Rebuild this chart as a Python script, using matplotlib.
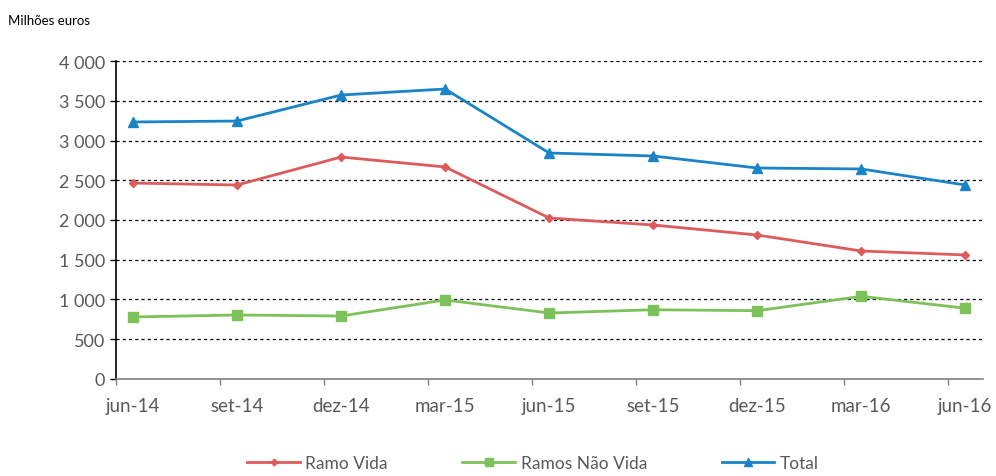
import matplotlib
matplotlib.use("Agg")
import matplotlib.pyplot as plt

plt.rcParams['font.family'] = ['Lato', 'DejaVu Sans']

categories = ["jun-14", "set-14", "dez-14", "mar-15", "jun-15", "set-15", "dez-15", "mar-16", "jun-16"]
ramo_vida = [2465, 2440, 2792, 2667, 2025, 1937, 1811, 1610, 1560]
ramos_nao_vida = [780, 805, 792, 994, 830, 871, 859, 1040, 890]
total = [3233, 3245, 3572, 3648, 2843, 2805, 2654, 2642, 2440]
y_ticks = [0, 500, 1000, 1500, 2000, 2500, 3000, 3500, 4000]
y_labels = ["0", "500", "1 000", "1 500", "2 000", "2 500", "3 000", "3 500", "4 000"]

red = "#DE5B5B"
green = "#7DC15A"
blue = "#1A84C7"
txt = "#595959"

fig = plt.figure(figsize=(9.96, 4.77), dpi=100)
ax = fig.add_axes([0.1165, 0.2034, 0.987 - 0.1165, 0.870 - 0.2034])

x = list(range(len(categories)))
ax.plot(x, ramo_vida, color=red, lw=2.0, marker='D', ms=4.5, label="Ramo Vida", zorder=3)
ax.plot(x, ramos_nao_vida, color=green, lw=2.0, marker='s', ms=7, label="Ramos Não Vida", zorder=3)
ax.plot(x, total, color=blue, lw=2.0, marker='^', ms=7, label="Total", zorder=3)

ax.set_ylim(0, 4000)
ax.set_xlim(-0.145, 8.17)
ax.set_yticks(y_ticks)
ax.set_yticklabels(y_labels, fontsize=13, color=txt)
for yv in y_ticks[1:]:
    ax.axhline(yv, color="black", lw=0.9, ls=(0, (2.5, 2.5)), zorder=1)

ax.set_xticks([i - 0.163 for i in x], minor=True)
ax.set_xticks(x)
ax.set_xticklabels(categories, fontsize=13.5, color=txt)
ax.tick_params(axis='x', which='major', length=0, pad=13)
ax.tick_params(axis='x', which='minor', length=4, color="#808080", width=1)
ax.tick_params(axis='y', length=4, width=1, color="black", pad=4)

for s in ["top", "right"]:
    ax.spines[s].set_visible(False)
ax.spines["left"].set_color("black")
ax.spines["left"].set_linewidth(1.2)
ax.spines["bottom"].set_color("#808080")
ax.spines["bottom"].set_linewidth(1.2)

fig.text(0.008, 0.955, "Milhões euros", fontsize=9.5, color="black", ha='left', va='center')

fig.legend(loc='center', bbox_to_anchor=(0.535, 0.028), ncol=3, frameon=False,
           fontsize=12.5, labelcolor=txt, handlelength=3.05, columnspacing=4.3,
           handletextpad=0.3, markerscale=0.75, borderpad=0.2)

fig.savefig("out.png", dpi=100)
